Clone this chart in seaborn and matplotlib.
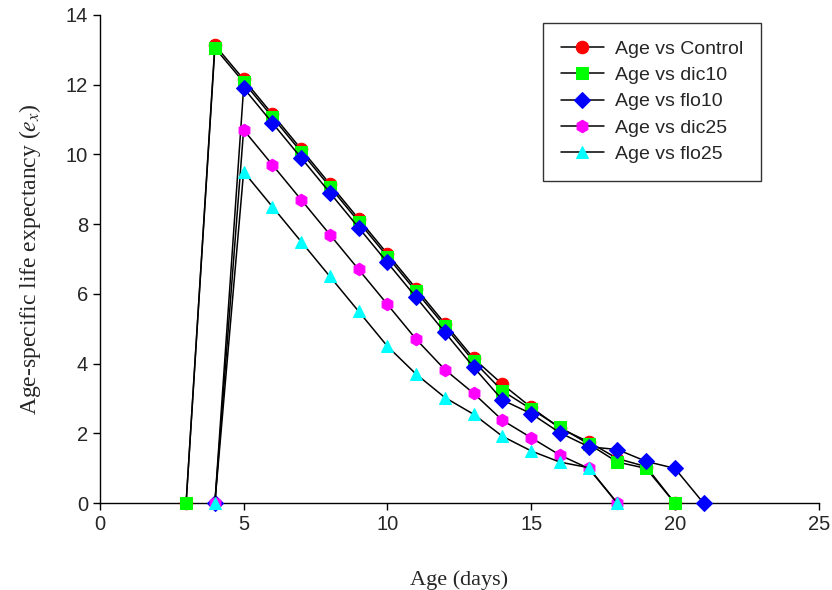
import numpy as np
import pandas as pd
import seaborn as sns
import matplotlib.pyplot as plt

# valores
edad_control = [3, 4, 5, 6, 7, 8, 9, 10, 11, 12, 13, 14, 15, 16, 17, 18, 19, 20]
ex_control = [0, 13.13, 12.15, 11.15, 10.15, 9.15, 8.15, 7.15, 6.15, 5.15, 4.15, 3.41, 2.75, 2.15, 1.76, 1.28, 1.05, 0]

edad_dic10 = [3, 4, 5, 6, 7, 8, 9, 10, 11, 12, 13, 14, 15, 16, 17, 18, 19, 20]
ex_dic10 = [0, 13.05, 12.07, 11.07, 10.07, 9.07, 8.07, 7.07, 6.07, 5.07, 4.07, 3.22, 2.7, 2.18, 1.7, 1.18, 1.0, 0]

edad_flo10 = [4, 5, 6, 7, 8, 9, 10, 11, 12, 13, 14, 15, 16, 17, 18, 19, 20, 21]
ex_flo10 = [0, 11.9, 10.9, 9.9, 8.9, 7.9, 6.9, 5.9, 4.9, 3.9, 2.96, 2.57, 2.02, 1.62, 1.54, 1.2, 1.0, 0]

edad_dic25 = [4, 5, 6, 7, 8, 9, 10, 11, 12, 13, 14, 15, 16, 17, 18]
ex_dic25 = [0, 10.7, 9.7, 8.7, 7.7, 6.7, 5.7, 4.7, 3.83, 3.15, 2.38, 1.88, 1.38, 1.0, 0]

edad_flo25 = [4, 5, 6, 7, 8, 9, 10, 11, 12, 13, 14, 15, 16, 17, 18]
ex_flo25 = [0, 9.5, 8.5, 7.5, 6.5, 5.5, 4.5, 3.7, 3.03, 2.55, 1.92, 1.5, 1.18, 1.02, 0]

series = [
    ('Age vs Control', edad_control, ex_control, 'o', '#ff0000'),
    ('Age vs dic10', edad_dic10, ex_dic10, 's', '#00ff00'),
    ('Age vs flo10', edad_flo10, ex_flo10, 'D', '#0000ff'),
    ('Age vs dic25', edad_dic25, ex_dic25, 'h', '#ff00ff'),
    ('Age vs flo25', edad_flo25, ex_flo25, '^', '#00ffff'),
]

sns.set_style('ticks')
plt.rcParams['font.family'] = ['Liberation Sans', 'DejaVu Sans']
plt.rcParams['mathtext.fontset'] = 'stix'

fig = plt.figure(figsize=(8.32, 5.9), dpi=100)
ax = fig.add_axes([0.12, 0.147, 0.864, 0.828])

for nombre, x, y, m, c in series:
    df = pd.DataFrame({'Edad': x, 'ex': y})
    sns.lineplot(data=df, x='Edad', y='ex', ax=ax, color='black', linewidth=1.1,
                 marker=m, markersize=9 if m != 'D' else 8,
                 markerfacecolor=c, markeredgecolor=c, label=nombre,
                 clip_on=False, zorder=3)

ax.set_xlim(0, 25)
ax.set_ylim(0, 14)
ax.set_xticks(np.arange(0, 26, 5))
ax.set_yticks(np.arange(0, 15, 2))
ax.tick_params(labelsize=14.5, length=5, width=1, color='black', direction='out')
sns.despine(ax=ax)
for s in ['left', 'bottom']:
    ax.spines[s].set_color('black')
    ax.spines[s].set_linewidth(1)

ax.set_xlabel('Age (days)', family='Liberation Serif', fontsize=16, labelpad=26)
ax.set_ylabel(r'Age-specific life expectancy ($e_x$)', family='Liberation Serif',
              fontsize=17, labelpad=16)

leg = ax.legend(loc='upper left', bbox_to_anchor=(0.617, 0.984), borderaxespad=0,
                fontsize=14, frameon=True, fancybox=False, edgecolor='black',
                handlelength=2.2, handletextpad=0.6, labelspacing=0.45, borderpad=0.9)
leg.get_frame().set_linewidth(1)

plt.savefig('out.png', dpi=100)
